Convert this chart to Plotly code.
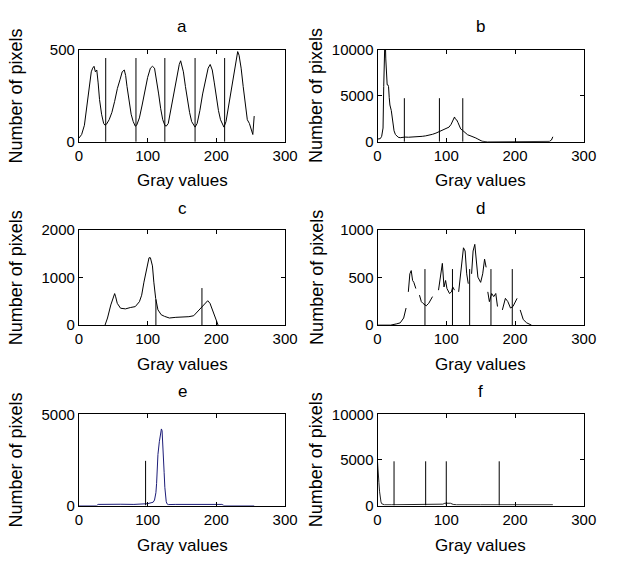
import plotly.graph_objects as go

# ---------------- data ----------------
a_x = [0, 4, 8, 12, 15, 18, 20, 22, 24, 26, 28, 30, 33, 36, 38, 40, 44, 48, 52, 56, 60, 63, 66, 68, 70, 73, 76, 79, 82, 84,
       88, 92, 96, 100, 104, 107, 110, 113, 116, 119, 122, 125, 127, 130, 134, 138, 142, 146, 148, 150, 152, 155, 158, 161,
       164, 167, 169, 172, 176, 180, 184, 188, 191, 194, 197, 200, 203, 206, 209, 211, 214, 218, 222, 226, 229, 231, 233,
       236, 239, 242, 245, 248, 251, 253, 255]
a_y = [20, 40, 90, 200, 270, 380, 400, 410, 380, 390, 320, 230, 150, 100, 90, 95, 120, 160, 220, 290, 340, 380, 390, 360,
       300, 220, 150, 110, 85, 90, 130, 200, 280, 350, 400, 410, 400, 340, 260, 180, 120, 90, 85, 100, 180, 280, 360, 420,
       440, 410, 380, 300, 220, 160, 110, 90, 80, 100, 170, 260, 340, 400, 420, 390, 320, 240, 170, 120, 90, 80, 110, 200,
       300, 380, 440, 490, 470, 400, 300, 200, 120, 100, 60, 40, 140]
a_thr = [39, 83, 125, 169, 212]
a_thr_h = [455, 455, 455, 455, 455]

b_x = [0, 2, 4, 6, 7, 8, 9, 10, 11, 12, 13, 14, 15, 16, 17, 18, 20, 22, 24, 26, 28, 30, 33, 36, 40, 45, 50, 55, 60, 65,
       70, 75, 80, 85, 90, 95, 100, 104, 107, 109, 111, 112, 113, 115, 117, 119, 121, 124, 127, 131, 136, 140, 143, 146,
       149, 152, 160, 180, 200, 220, 240, 250, 253, 255]
b_y = [300, 300, 350, 600, 950, 1500, 6000, 12000, 12000, 9000, 7200, 6200, 6200, 6000, 4800, 4000, 3400, 2000, 1200, 800,
       620, 500, 450, 500, 520, 500, 520, 480, 560, 600, 650, 720, 820, 950, 1100, 1250, 1400, 1600, 1900, 2200, 2600,
       2700, 2500, 2400, 2100, 1700, 1400, 1230, 1000, 770, 630, 550, 420, 300, 175, 70, 0, 0, 0, 0, 0, 50, 200, 550]
b_thr = [39, 90, 124]
b_thr_h = [4740, 4740, 4740]

c_x = [38, 41.6, 46.4, 50, 52, 53.5, 55.8, 60.6, 67.7, 74.8, 82, 88, 91.3, 94.6, 98.4, 102, 104, 107, 109, 111.7, 115,
       119.7, 124.5, 131.6, 141, 150.5, 160, 167, 173, 179, 183.6, 187.4, 190.7, 195.5, 200, 202.5]
c_y = [0, 150, 425, 596, 664, 596, 459, 356, 342, 370, 390, 493, 630, 904, 1212, 1418, 1418, 1247, 904, 562, 322, 219,
       185, 150, 164, 164, 178, 198, 288, 390, 459, 514, 459, 253, 82, 0]
c_thr = [112, 179]
c_thr_h = [540, 780]

d_x = [0, 19, 28, 33, 38, 41.5, None,
       44.8, 47, 49, 51, 52.8, 55.7, None,
       61, 63.7, 66, 70.8, 74.5, 77.8, 80, None,
       88.7, 92, 94.3, 96.7, 99, 101, 104.7, 107.5, 109.4, 112, None,
       118, 120, 122.6, 125, 127.4, 129.7, 132, None,
       136.8, 139, 141.5, 143.9, 146, 150, 153, 155.7, 158, None,
       160.4, 162.7, 166, 169, 172, 174.5, None,
       181.6, 186, 189.6, 193.4, 197, 200.5, 203, None,
       207.5, 212, 217, 224]
d_y = [0, 0, 14, 24, 75, 180, None,
       350, 540, 574, 470, 450, 385, None,
       316, 247, 230, 203, 230, 265, 300, None,
       368, 540, 650, 402, 470, 385, 333, 350, 402, 368, None,
       350, 505, 643, 814, 780, 540, 436, None,
       540, 780, 850, 677, 505, 450, 540, 694, 608, None,
       350, 247, 333, 300, 333, 196, None,
       160, 282, 247, 180, 196, 247, 282, None,
       160, 58, 24, 0]
d_thr = [69, 109, 134, 165, 196]
d_thr_h = [590, 590, 590, 590, 590]

e_x = [0, 26, 28, 40, 60, 80, 95, 100, 105, 108, 110, 112, 113, 114, 115, 117, 118, 119, 120, 121, 122, 123, 124, 125,
       126, 127, 128, 130, 140, 160, 180, 200, 208, 211, 230, 255]
e_y = [0, 0, 60, 70, 70, 60, 60, 100, 150, 180, 300, 700, 1200, 2000, 2800, 3500, 3700, 4000, 4200, 4100, 3500, 2800,
       1800, 1000, 500, 230, 100, 50, 60, 60, 60, 60, 60, 0, 0, 0]
e_thr = [97]
e_thr_h = [2450]

f_x = [0, 1, 2, 3, 4, 5, 6, 8, 10, 20, 50, 90, 95, 98, 102, 106, 110, 115, 150, 200, 255]
f_y = [4800, 3000, 2500, 1500, 800, 400, 200, 100, 80, 80, 80, 80, 150, 250, 280, 250, 120, 80, 80, 80, 80]
f_thr = [24, 70, 100, 177]
f_thr_h = [4850, 4850, 4850, 4850]

titles = ["a", "b", "c", "d", "e", "f"]
y_ranges = [500, 10000, 2000, 1000, 5000, 10000]
y_ticks = [[0, 500], [0, 5000, 10000], [0, 1000, 2000], [0, 500, 1000], [0, 5000], [0, 5000, 10000]]
x_ticks = [0, 100, 200, 300]
x_title = "Gray values"
y_title = "Number of pixels"

# ---------------- layout ----------------
W, H = 624, 562
cols = [(77, 289), (384, 596)]
rows = [(42, 137), (228, 326), (418, 512)]
title_y = [18, 206, 394]
xlab_y = [177, 367, 553]
ylab_x = [12, 321]

curves = [(a_x, a_y), (b_x, b_y), (c_x, c_y), (d_x, d_y), (e_x, e_y), (f_x, f_y)]
thrs = [(a_thr, a_thr_h), (b_thr, b_thr_h), (c_thr, c_thr_h), (d_thr, d_thr_h), (e_thr, e_thr_h), (f_thr, f_thr_h)]
curve_colors = ["black", "black", "black", "black", "#1c1c78", "#222222"]

tick_font = dict(family="Liberation Sans, Arial", size=15, color="black")
lab_font = dict(family="Liberation Sans, Arial", size=17, color="black")

fig = go.Figure()
annotations = []
for i in range(6):
    r, c = i // 2, i % 2
    sfx = "" if i == 0 else str(i + 1)
    cx, cy = curves[i]
    fig.add_trace(go.Scatter(x=cx, y=cy, mode="lines", xaxis="x" + sfx, yaxis="y" + sfx,
                             line=dict(color=curve_colors[i], width=1), connectgaps=False,
                             showlegend=False, hoverinfo="skip"))
    tx, th = thrs[i]
    vx, vy = [], []
    for t, h in zip(tx, th):
        vx += [t, t, None]
        vy += [0, h, None]
    fig.add_trace(go.Scatter(x=vx, y=vy, mode="lines", xaxis="x" + sfx, yaxis="y" + sfx,
                             line=dict(color="black", width=1), showlegend=False, hoverinfo="skip"))
    x0, x1 = cols[c]
    yt, yb = rows[r]
    fig.update_layout(**{
        "xaxis" + sfx: dict(domain=[x0 / W, x1 / W], anchor="y" + sfx, range=[0, 300], tickvals=x_ticks,
                            ticktext=[str(v) for v in x_ticks],
                            ticks="inside", ticklen=4, tickcolor="black", showline=True, linecolor="black",
                            linewidth=1, mirror="ticks", showgrid=False, zeroline=False, tickfont=tick_font),
        "yaxis" + sfx: dict(domain=[1 - yb / H, 1 - yt / H], anchor="x" + sfx, range=[0, y_ranges[i]],
                            tickvals=y_ticks[i], ticktext=[str(v) for v in y_ticks[i]],
                            ticks="inside", ticklen=4, tickcolor="black", showline=True,
                            linecolor="black", linewidth=1, mirror="ticks", showgrid=False, zeroline=False,
                            tickfont=tick_font),
    })
    annotations.append(dict(text=titles[i], x=(x0 + x1) / 2 / W, y=1 - title_y[r] / H, xref="paper", yref="paper",
                            showarrow=False, xanchor="center", yanchor="middle", font=lab_font))
    annotations.append(dict(text=x_title, x=(x0 + x1) / 2 / W, y=1 - xlab_y[r] / H, xref="paper", yref="paper",
                            showarrow=False, xanchor="center", yanchor="middle", font=lab_font))
    annotations.append(dict(text=y_title, x=ylab_x[c] / W, y=1 - (yt + yb) / 2 / H, xref="paper", yref="paper",
                            showarrow=False, xanchor="center", yanchor="middle", textangle=-90,
                            font=dict(family="Liberation Sans, Arial", size=18, color="black")))

fig.update_layout(width=W, height=H, margin=dict(l=0, r=0, t=0, b=0), paper_bgcolor="white",
                  plot_bgcolor="white", annotations=annotations)
fig.write_html("out.html", config={"displayModeBar": False},
               post_script="document.body.style.margin='0px';")
